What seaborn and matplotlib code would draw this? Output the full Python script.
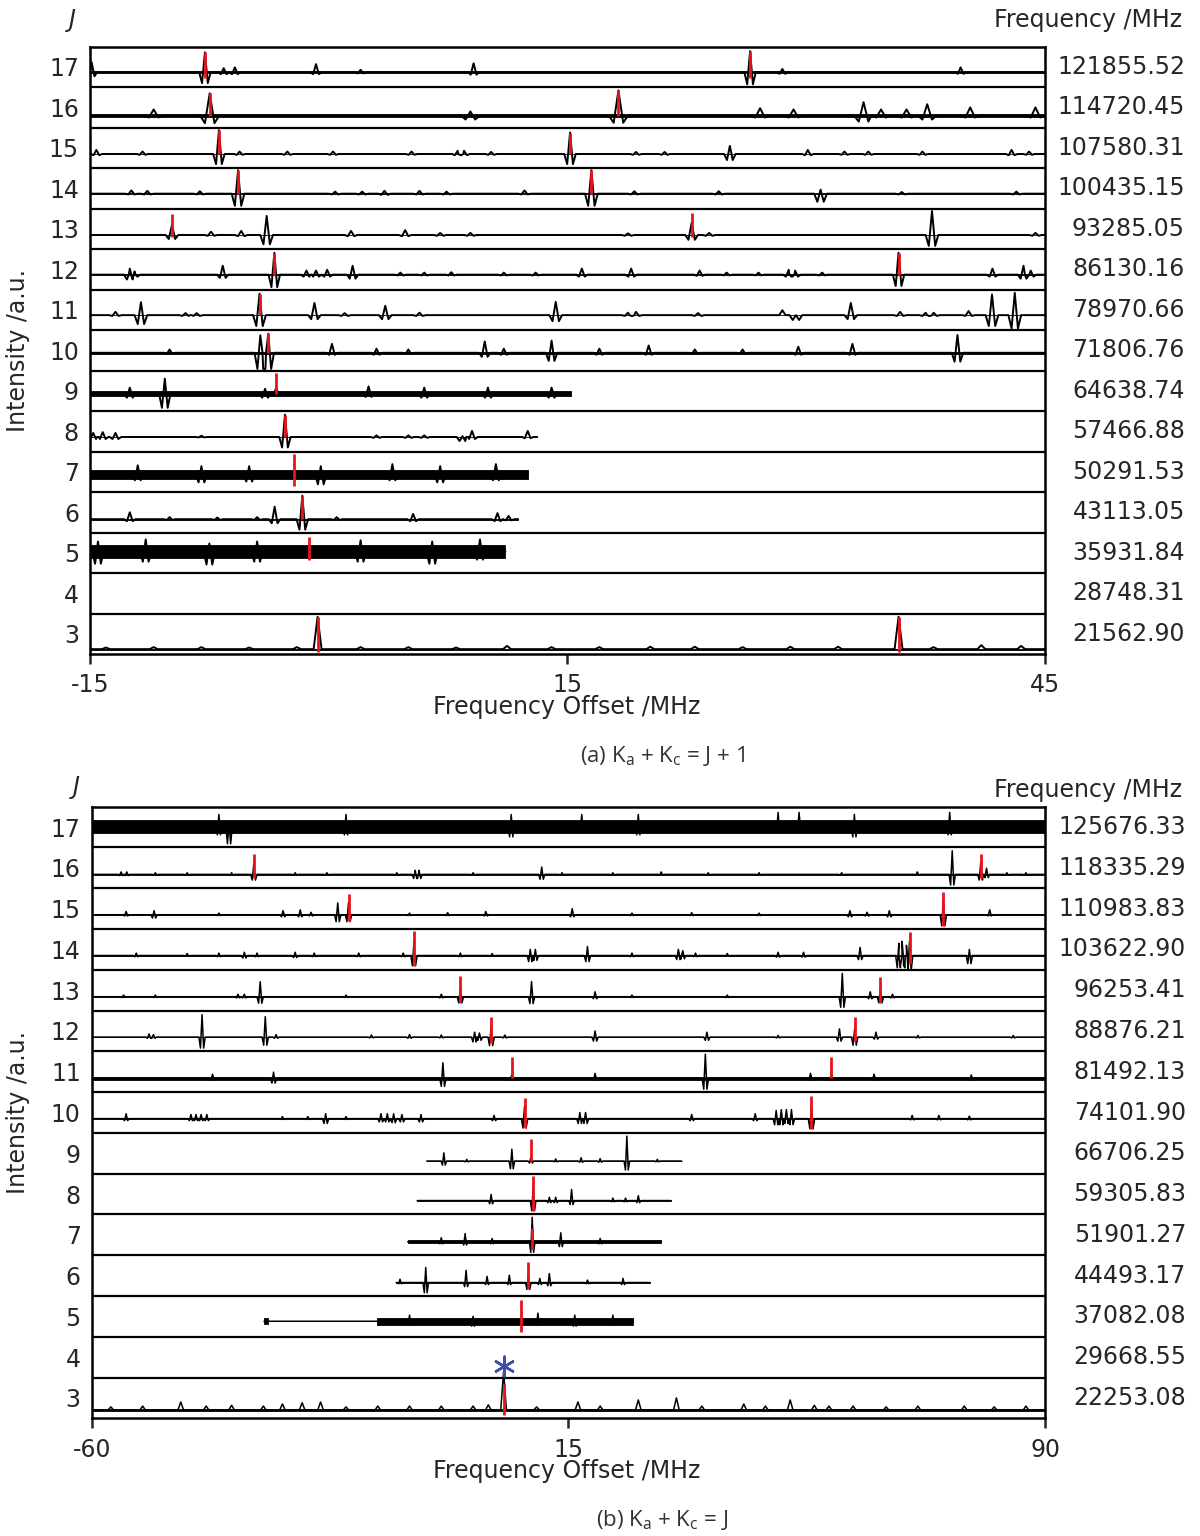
import matplotlib
matplotlib.use("Agg")
import matplotlib.pyplot as plt
import numpy as np
import pandas as pd
import seaborn as sns
from matplotlib.transforms import blended_transform_factory

# ---------------- data ----------------
ROWS = list(range(17, 2, -1))

A_FREQ = ["121855.52", "114720.45", "107580.31", "100435.15", "93285.05", "86130.16",
          "78970.66", "71806.76", "64638.74", "57466.88", "50291.53", "43113.05",
          "35931.84", "28748.31", "21562.90"]
B_FREQ = ["125676.33", "118335.29", "110983.83", "103622.90", "96253.41", "88876.21",
          "81492.13", "74101.90", "66706.25", "59305.83", "51901.27", "44493.17",
          "37082.08", "29668.55", "22253.08"]

A_XTICKS = [-15, 15, 45]
B_XTICKS = [-60, 15, 90]

# baseline level inside each row (fraction of row height)
A_BASE = {17: .37, 16: .30, 15: .35, 14: .37, 13: .35, 12: .37, 11: .37, 10: .44,
          9: .43, 8: .36, 7: .44, 6: .33, 5: .53, 4: None, 3: .12}
A_SPAN = {17: (-15, 45), 16: (-15, 45), 15: (-15, 45), 14: (-15, 45), 13: (-15, 45),
          12: (-15, 45), 11: (-15, 45), 10: (-15, 45), 9: (-15, 15.2), 8: (-15, 13.1),
          7: (-15, 12.5), 6: (-15, 11.9), 5: (-15, 11.1), 3: (-15, 45)}
A_LINEW = {17: .18, 16: .3, 15: .18, 14: .2, 13: .2, 12: .18, 11: .2, 10: .18,
           9: .18, 8: .18, 7: .18, 6: .18, 5: .18, 3: .25}
A_NOISE = {17: [(-15, 45, .03)], 16: [(-15, 45, .028)], 15: [(-15, 45, .008)],
           14: [(-15, 45, .008)], 13: [(-15, 45, .006)], 12: [(-15, 45, .008)],
           11: [(-15, 45, .008)], 10: [(-15, 45, .03)], 9: [(-15, 15.2, .065)],
           8: [(-15, 13.1, .006)], 7: [(-15, 12.5, .11)], 6: [(-15, 11.9, .008)],
           5: [(-15, 11.1, .16)], 3: [(-15, 45, .012)]}
# (offset MHz, height up, depth down) in row fractions
A_PEAKS = {
    17: [(-7.78, .49, .27), (26.47, .52, .30), (-14.9, .25, .10), (-6.6, .10, .05),
         (-5.9, .12, .05), (-0.8, .20, .05), (9.1, .22, .06), (39.7, .12, .04),
         (28.5, .08, .04), (2.0, .06, .03)],
    16: [(-7.48, .55, .19), (18.2, .62, .18), (-11.0, .15, .05), (8.9, .10, .10),
         (27.1, .18, .05), (29.2, .15, .05), (33.6, .33, .15), (34.7, .15, .05),
         (36.3, .15, .05), (37.6, .28, .10), (40.3, .20, .05), (44.4, .20, .05)],
    15: [(-6.9, .59, .25), (15.16, .53, .25), (25.2, .20, .15), (-14.6, .10, .03),
         (-11.7, .06, .02), (-5.6, .06, .02), (-2.6, .06, .02), (0.27, .06, .02),
         (5.2, .06, .02), (8.1, .08, .03), (8.5, .08, .03), (10.2, .05, .02),
         (19.3, .05, .02), (21.1, .05, .02), (30.1, .10, .03), (32.4, .06, .02),
         (33.9, .06, .02), (37.3, .06, .02), (42.9, .10, .03), (44.0, .06, .02)],
    14: [(-5.7, .58, .30), (16.5, .58, .30), (30.9, .10, .20), (-12.4, .08, .02),
         (-11.4, .07, .02), (-8.1, .06, .02), (0.4, .05, .02), (2.1, .05, .02),
         (3.5, .07, .03), (5.7, .07, .02), (7.4, .05, .02), (12.3, .08, .02),
         (19.2, .06, .02), (24.5, .06, .02), (43.2, .05, .02), (36.0, .04, .02)],
    13: [(-9.85, .25, .10), (-3.9, .47, .23), (22.8, .30, .12), (37.9, .59, .27),
         (-7.4, .08, .02), (-5.5, .10, .03), (1.4, .10, .03), (4.8, .12, .03),
         (7.0, .05, .02), (8.9, .05, .02), (18.8, .04, .02), (23.9, .05, .02),
         (44.4, .05, .02)],
    12: [(-3.42, .54, .31), (35.8, .54, .28), (-12.5, .15, .12), (-12.2, .08, .05),
         (-6.66, .22, .08), (-1.4, .10, .05), (-0.8, .10, .05), (-0.1, .12, .05),
         (1.5, .22, .10), (4.5, .05, .02), (6.0, .05, .02), (7.7, .06, .02),
         (11.0, .05, .02), (13.0, .05, .02), (15.9, .15, .05), (19.0, .15, .05),
         (23.3, .10, .03), (25.0, .05, .02), (27.0, .05, .02), (28.9, .12, .05),
         (29.3, .10, .05), (31.0, .05, .02), (41.7, .15, .05), (43.65, .22, .10),
         (44.1, .10, .05)],
    11: [(-4.35, .53, .27), (-11.8, .32, .22), (-0.9, .30, .10), (3.55, .23, .10),
         (14.26, .33, .15), (32.8, .30, .10), (41.67, .51, .27), (43.1, .55, .33),
         (28.5, .12, .0), (29.35, .0, .12), (-13.4, .08, .02), (-9.0, .05, .02),
         (-8.3, .05, .02), (1.0, .05, .02), (5.7, .06, .02), (18.8, .06, .02),
         (19.3, .08, .02), (23.2, .05, .02), (35.9, .08, .02), (37.5, .06, .02),
         (38.0, .06, .02), (40.2, .10, .02)],
    10: [(-4.3, .43, .40), (-3.8, .47, .40), (0.2, .22, .05), (9.8, .28, .10),
         (14.0, .30, .20), (20.1, .18, .05), (29.5, .15, .05), (32.9, .22, .05),
         (39.5, .44, .22), (-10.0, .08, .03), (3.0, .10, .05), (5.0, .08, .03),
         (11.0, .10, .05), (17.0, .10, .05), (23.0, .08, .03), (26.0, .08, .03)],
    9: [(-10.3, .37, .35), (-3.3, .15, .05), (-12.5, .15, .10), (-4.0, .12, .10),
        (2.5, .18, .08), (6.0, .15, .10), (10.0, .15, .10), (14.0, .15, .10)],
    8: [(-2.75, .55, .26), (-14.8, .10, .05), (-14.2, .12, .05), (-13.4, .10, .05),
        (8.4, .02, .10), (9.0, .15, .05), (12.5, .15, .03), (-8.0, .03, .01),
        (3.0, .04, .02), (5.0, .04, .02), (6.0, .04, .02)],
    7: [(-12.0, .22, .15), (-8.0, .20, .20), (-5.0, .20, .18), (-0.5, .20, .25),
        (4.0, .25, .15), (7.0, .20, .20), (10.5, .25, .15)],
    6: [(-1.66, .58, .26), (-3.4, .31, .10), (-12.5, .17, .05), (5.3, .13, .05),
        (10.6, .15, .05), (11.3, .08, .03), (-10.0, .05, .02), (-7.0, .04, .02),
        (0.5, .05, .02), (-4.5, .05, .02)],
    5: [(-14.5, .25, .30), (-11.5, .30, .25), (-7.5, .20, .32), (-4.5, .25, .25),
        (2.0, .28, .25), (6.5, .25, .30), (9.5, .30, .20)],
    3: [(-0.7, .80, 0), (35.8, .80, 0), (-14.0, .04, 0), (-11.0, .05, 0), (-8.0, .05, 0),
        (-5.0, .04, 0), (-2.0, .05, 0), (2.0, .05, 0), (5.0, .05, 0), (8.0, .04, 0),
        (11.2, .08, 0), (14.0, .05, 0), (17.0, .05, 0), (20.2, .06, 0), (23.0, .06, 0),
        (26.0, .05, 0), (29.0, .06, 0), (32.0, .06, 0), (38.0, .05, 0), (41.0, .10, 0),
        (43.5, .08, 0)],
}
# assigned transitions: (offset MHz, low, high) in row fractions relative to baseline
A_RED = {17: [(-7.78, -.14, .49), (26.47, -.14, .52)], 16: [(-7.48, -.02, .55), (18.2, -.02, .62)],
         15: [(-6.9, 0, .59), (15.16, 0, .53)], 14: [(-5.7, 0, .58), (16.5, 0, .58)],
         13: [(-9.85, -.05, .51), (22.8, -.05, .54)], 12: [(-3.42, 0, .54), (35.8, 0, .54)],
         11: [(-4.35, 0, .53)], 10: [(-3.8, 0, .48)], 9: [(-3.3, 0, .51)], 8: [(-2.75, 0, .55)],
         7: [(-2.2, -.28, .50)], 6: [(-1.66, 0, .58)], 5: [(-1.27, -.20, .37)],
         3: [(-0.7, -.06, .80), (35.8, -.06, .80)]}

B_BASE = {17: .51, 16: .34, 15: .35, 14: .35, 13: .34, 12: .35, 11: .34, 10: .35,
          9: .31, 8: .34, 7: .33, 6: .33, 5: .38, 4: None, 3: .20}
B_SPAN = {17: (-60, 90), 16: (-60, 90), 15: (-60, 90), 14: (-60, 90), 13: (-60, 90),
          12: (-60, 90), 11: (-60, 90), 10: (-60, 90), 9: (-7.3, 32.8), 8: (-8.8, 31.1),
          7: (-10.3, 29.6), 6: (-12.1, 27.8), 5: (-32.9, 25.1), 3: (-60, 90)}
B_LINEW = {17: .25, 16: .25, 15: .25, 14: .25, 13: .25, 12: .25, 11: .25, 10: .25,
           9: .22, 8: .22, 7: .22, 6: .22, 5: .22, 3: .45}
B_NOISE = {17: [(-60, 90, .16)], 16: [(-60, 90, .006)], 15: [(-60, 90, .008)],
           14: [(-60, 90, .01)], 13: [(-60, 90, .008)], 12: [(-60, 90, .008)],
           11: [(-60, 90, .035)], 10: [(-60, 90, .008)], 9: [(-7.3, 32.8, .01)],
           8: [(-8.8, 31.1, .022)], 7: [(-10.3, 29.6, .04)], 6: [(-12.1, 27.8, .018)],
           5: [(-32.9, -32.3, .07), (-15.1, 25.1, .08)], 3: [(-60, 90, .03)]}
B_PEAKS = {
    17: [(-38.4, .10, .42), (-40.0, .30, .20), (-20.0, .30, .20), (6.0, .30, .25),
         (17.1, .30, .15), (26.0, .30, .20), (48.0, .35, .15), (51.3, .35, .10),
         (60.0, .30, .25), (75.0, .35, .20)],
    16: [(-34.5, .28, .14), (75.4, .58, .26), (79.9, .30, .14), (-9.1, .10, .10),
         (-8.5, .10, .10), (10.8, .18, .12), (80.8, .15, .08), (29.6, .06, .02),
         (69.9, .06, .02), (-55.4, .06, .03), (-54.5, .06, .03), (-50.0, .04, .02),
         (-45.0, .04, .02), (-38.0, .04, .02), (-28.0, .04, .02), (-23.0, .04, .02),
         (-12.0, .04, .02), (0.0, .04, .02), (14.0, .04, .02), (22.0, .04, .02),
         (37.0, .04, .02), (45.0, .04, .02), (58.0, .04, .02), (84.0, .04, .02),
         (87.0, .04, .02)],
    15: [(-21.3, .29, .17), (-19.6, .30, .17), (74.0, .35, .27), (-54.6, .08, .03),
         (-50.2, .10, .08), (-29.9, .10, .05), (-27.2, .12, .05), (-25.5, .06, .03),
         (2.0, .08, .03), (15.6, .15, .05), (34.4, .05, .02), (59.3, .10, .05),
         (62.0, .06, .03), (65.5, .10, .05), (81.3, .12, .03), (-40.0, .04, .02),
         (-10.0, .04, .02), (-4.0, .05, .02), (25.0, .04, .02), (45.0, .04, .02)],
    14: [(-9.3, .35, .25), (68.7, .35, .35), (67.0, .30, .30), (67.5, .35, .25),
         (68.2, .25, .30), (18.0, .22, .15), (9.0, .15, .15), (9.8, .15, .12),
         (32.3, .15, .10), (33.0, .12, .08), (60.9, .20, .10), (78.1, .15, .20),
         (-53.0, .06, .03), (-45.0, .05, .02), (-40.0, .06, .03), (-36.0, .08, .06),
         (-34.0, .06, .03), (-28.0, .08, .05), (-25.0, .06, .03), (-18.0, .06, .03),
         (-11.0, .06, .03), (-2.0, .06, .03), (3.0, .05, .02), (25.0, .06, .03),
         (35.0, .06, .03), (40.0, .05, .02), (48.0, .08, .04), (52.0, .08, .04)],
    13: [(-33.5, .37, .16), (-2.0, .20, .15), (9.2, .37, .17), (58.1, .57, .26),
         (64.1, .20, .15), (62.5, .12, .05), (19.2, .12, .05), (-55.0, .04, .02),
         (-50.0, .04, .02), (-37.0, .06, .03), (-36.0, .06, .03), (-20.0, .04, .02),
         (-5.0, .06, .03), (25.0, .04, .02), (40.0, .04, .02), (66.0, .06, .03)],
    12: [(-42.65, .55, .27), (-32.7, .50, .20), (2.84, .25, .21), (57.65, .20, .10),
         (60.05, .20, .20), (0.24, .12, .12), (19.2, .15, .10), (36.8, .12, .08),
         (63.4, .12, .05), (-51.0, .08, .03), (-50.3, .06, .03), (-31.0, .06, .03),
         (-16.0, .05, .02), (-10.0, .06, .03), (-5.0, .05, .02), (1.0, .10, .08),
         (5.0, .05, .02), (48.0, .04, .02), (70.0, .04, .02), (85.0, .04, .02)],
    11: [(-4.75, .38, .20), (6.1, .10, .05), (36.55, .59, .27), (56.4, .10, .05),
         (-31.4, .15, .12), (-41.0, .10, .05), (19.2, .12, .05), (53.1, .12, .05),
         (63.1, .10, .05), (78.4, .08, .05)],
    10: [(8.1, .30, .23), (53.25, .30, .25), (47.7, .20, .15), (48.5, .22, .15),
         (49.3, .22, .12), (50.1, .22, .15), (16.8, .15, .12), (17.7, .15, .12),
         (-54.6, .12, .05), (-44.4, .10, .05), (-43.6, .10, .05), (-42.8, .10, .05),
         (-41.9, .10, .05), (-23.2, .12, .12), (-14.5, .12, .08), (-13.5, .12, .08),
         (-12.5, .12, .10), (-11.2, .10, .08), (-8.2, .10, .08), (3.3, .08, .05),
         (34.4, .10, .05), (44.4, .12, .05), (69.1, .08, .03), (73.3, .08, .03),
         (78.1, .06, .03), (-30.0, .05, .02), (-20.0, .05, .02), (-26.0, .05, .02)],
    9: [(9.1, .10, .05), (6.1, .29, .19), (-4.6, .20, .10), (24.2, .61, .22),
        (17.0, .08, .03), (13.0, .05, .02), (20.0, .06, .03), (-1.0, .04, .02),
        (29.0, .04, .02)],
    8: [(9.45, .30, .25), (2.84, .15, .08), (15.5, .27, .10), (26.0, .12, .05),
        (12.0, .08, .05), (13.0, .08, .05), (22.0, .06, .03), (24.0, .06, .03)],
    7: [(9.3, .60, .26), (-1.25, .20, .08), (13.8, .22, .12), (-5.0, .10, .05),
        (3.0, .08, .05), (20.0, .08, .05)],
    6: [(-7.45, .37, .25), (8.7, .20, .17), (-1.1, .30, .10), (2.2, .15, .05),
        (5.7, .18, .05), (12.0, .22, .08), (23.6, .10, .05), (-11.5, .08, .03),
        (10.5, .10, .05), (18.0, .06, .03)],
    5: [(10.2, .20, .10), (-10.0, .15, .10), (0.0, .12, .12), (16.0, .15, .12),
        (22.0, .15, .10)],
    3: [(4.8, .94, 0), (-46.0, .20, 0), (-26.9, .18, 0), (-24.0, .20, 0), (2.4, .13, 0),
        (16.5, .20, 0), (26.0, .25, 0), (32.0, .30, 0), (42.6, .15, 0), (49.9, .25, 0),
        (53.7, .12, 0), (59.8, .10, 0), (77.3, .10, 0), (-57.0, .08, 0), (-52.0, .10, 0),
        (-42.0, .10, 0), (-38.0, .12, 0), (-33.0, .10, 0), (-30.0, .15, 0), (-20.0, .08, 0),
        (-15.0, .10, 0), (-10.0, .10, 0), (-5.0, .10, 0), (0.0, .10, 0), (10.0, .08, 0),
        (20.0, .10, 0), (36.0, .10, 0), (46.0, .10, 0), (56.0, .10, 0), (65.0, .08, 0),
        (70.0, .10, 0), (82.0, .08, 0), (87.0, .10, 0)],
}
B_RED = {16: [(-34.5, -.10, .51), (79.9, -.10, .51)], 15: [(-19.6, -.15, .51), (74.0, -.27, .57)],
         14: [(-9.3, -.25, .59), (68.7, -.20, .58)], 13: [(-2.0, -.15, .51), (64.1, -.15, .49)],
         12: [(2.84, -.15, .50), (60.05, -.10, .50)], 11: [(6.1, 0, .51), (56.4, 0, .51)],
         10: [(8.1, -.23, .51), (53.25, -.25, .56)], 9: [(9.1, 0, .55)], 8: [(9.45, -.25, .60)],
         7: [(9.3, -.18, .33)], 6: [(8.7, -.17, .51)], 5: [(7.6, -.27, .51)], 3: [(4.8, -.12, .63)]}
B_STAR = (4.8, 4, .28)   # (offset, J row, height within row)


# ---------------- helpers ----------------
def build_traces(base, span, linew, peaks):
    recs = []
    for J in ROWS:
        if base.get(J) is None:
            continue
        x0, x1 = span[J]
        w = linew[J]
        pts = [(x0, 0.0), (x1, 0.0)]
        for (x, up, dn) in peaks.get(J, []):
            if dn > 0:
                shape = [(x - 2 * w, 0), (x - w, -dn), (x, up), (x + w, -dn), (x + 2 * w, 0)]
            else:
                shape = [(x - w, 0), (x, up), (x + w, 0)]
            pts += [(px, py) for px, py in shape if x0 <= px <= x1]
        pts.sort(key=lambda p: p[0])
        for px, py in pts:
            recs.append({"J": J, "x": px, "y": J - 0.5 + base[J] + py})
    return pd.DataFrame(recs)


def draw_panel(ax, xlim, xticks, freqs, base, span, linew, noise, peaks, red, lw, fx):
    df = build_traces(base, span, linew, peaks)
    for J in ROWS:
        if base.get(J) is None:
            continue
        yb = J - 0.5 + base[J]
        for (a, b, n) in noise.get(J, []):
            ax.fill_between([a, b], [yb - n, yb - n], [yb + n, yb + n],
                            color="black", lw=0.6, zorder=2)
    sns.lineplot(data=df, x="x", y="y", units="J", estimator=None, sort=False,
                 color="black", lw=lw, ax=ax, legend=False, zorder=3)
    for J in ROWS:
        for (x, lo, hi) in red.get(J, []):
            yb = J - 0.5 + base[J]
            ax.vlines(x, yb + lo, yb + hi, color="#e8141c", lw=2.0, zorder=4)
    for J in ROWS[:-1]:
        ax.axhline(J - 0.5, color="black", lw=1.6, zorder=5)
    ax.set_xlim(*xlim)
    ax.set_ylim(2.5, 17.5)
    ax.set_xticks(xticks)
    ax.set_xticklabels([str(t) for t in xticks])
    ax.set_yticks(ROWS)
    ax.set_yticklabels([str(j) for j in ROWS])
    ax.tick_params(axis="x", bottom=True, direction="out", length=7, width=1.8,
                   labelsize=17, pad=7)
    ax.tick_params(axis="y", left=False, length=0, labelsize=17, pad=8)
    ax.set_xlabel("")
    ax.set_ylabel("")
    for s in ax.spines.values():
        s.set_visible(True)
        s.set_linewidth(1.8)
        s.set_color("black")
    tr = blended_transform_factory(ax.transAxes, ax.transData)
    for J, f in zip(ROWS, freqs):
        ax.text(fx, J, f, transform=tr, ha="right", va="center", fontsize=17)


# ---------------- figure ----------------
sns.set_style("white")
plt.rcParams["font.family"] = ["DejaVu Sans"]

W, H = 1200, 1536
fig = plt.figure(figsize=(12, 15.36), dpi=100)

axA = fig.add_axes([90 / W, 1 - 654 / H, (1045 - 90) / W, (654 - 46.7) / H])
axB = fig.add_axes([91.8 / W, 1 - 1418.3 / H, (1045 - 91.8) / W, (1418.3 - 806.7) / H])

draw_panel(axA, (-15, 45), A_XTICKS, A_FREQ, A_BASE, A_SPAN, A_LINEW, A_NOISE,
           A_PEAKS, A_RED, 1.4, (1185 - 90) / 955)
draw_panel(axB, (-60, 90), B_XTICKS, B_FREQ, B_BASE, B_SPAN, B_LINEW, B_NOISE,
           B_PEAKS, B_RED, 1.1, (1186 - 91.8) / 953.2)

sx, sJ, sh = B_STAR
axB.scatter([sx], [sJ - 0.5 + sh], marker=(6, 2, 0), s=200, color="#3d4fa6",
            linewidths=1.8, zorder=6)


def ftext(x, y, s, **kw):
    fig.text(x / W, 1 - y / H, s, **kw)


for (jy, jx, fy, xly, capy, cap, ylc) in [
        (20, 72, 20, 707, 756, r"(a) K$_\mathregular{a}$ + K$_\mathregular{c}$ = J + 1", 350),
        (787, 76, 790, 1471, 1520, r"(b) K$_\mathregular{a}$ + K$_\mathregular{c}$ = J", 1112)]:
    ftext(jx, jy, "J", fontsize=17, style="italic", ha="center", va="center")
    ftext(1182, fy, "Frequency /MHz", fontsize=17, ha="right", va="center")
    ftext(567, xly, "Frequency Offset /MHz", fontsize=17, ha="center", va="center")
    ftext(662, capy, cap, fontsize=16, ha="center", va="center", color="#333333",
          family=["Open Sans", "DejaVu Sans"])
    ftext(18, ylc, "Intensity /a.u.", fontsize=17, rotation=90, ha="center", va="center")

fig.savefig("out.png", dpi=100)
